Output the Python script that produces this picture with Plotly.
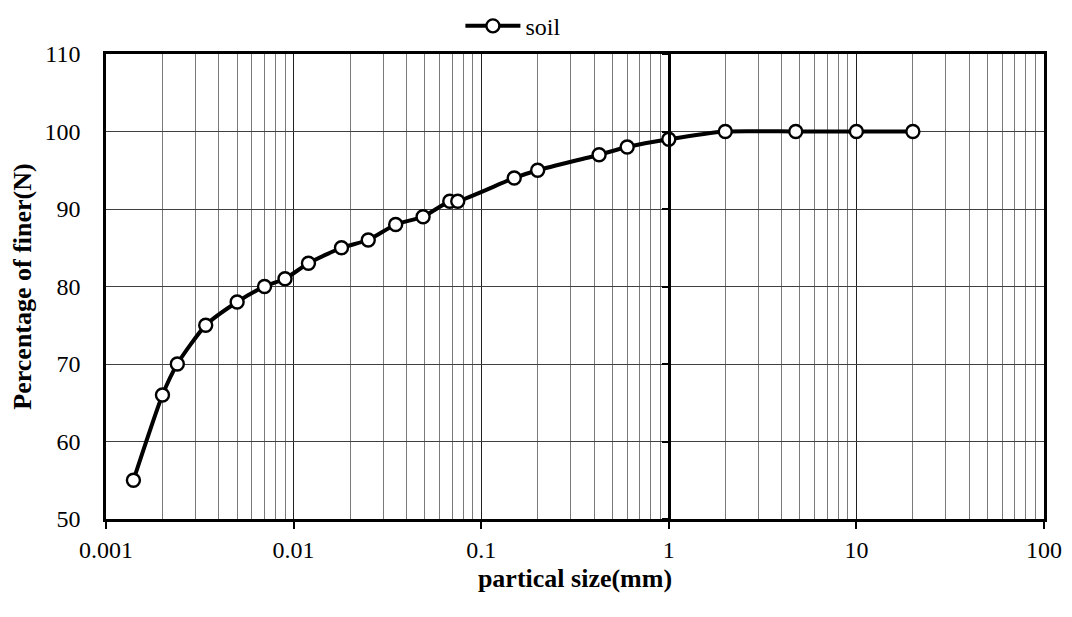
import plotly.graph_objects as go

size_mm = [0.0014, 0.002, 0.0024, 0.0034, 0.005, 0.007, 0.009, 0.012, 0.018, 0.025,
           0.035, 0.049, 0.068, 0.075, 0.15, 0.2, 0.425, 0.6, 1.0, 2.0, 4.75, 10.0, 20.0]
percent_finer = [55, 66, 70, 75, 78, 80, 81, 83, 85, 86,
                 88, 89, 91, 91, 94, 95, 97, 98, 99, 100, 100, 100, 100]

decades = [-3, -2, -1, 0, 1, 2]
major_vals = [10 ** e for e in decades]
major_text = ["0.001", "0.01", "0.1", "1", "10", "100"]
minor_vals = [m * 10 ** e for e in decades[:-1] for m in range(2, 10)]
y_ticks = [50, 60, 70, 80, 90, 100, 110]

font_family = "Liberation Serif, Times New Roman, serif"

fig = go.Figure()
fig.add_trace(go.Scatter(
    x=size_mm, y=percent_finer, name="soil", mode="lines+markers",
    line=dict(color="black", width=4, shape="spline", smoothing=0.6),
    marker=dict(size=13, color="white", line=dict(color="black", width=2.4)),
))

fig.update_layout(
    width=1064, height=609,
    margin=dict(l=98, r=28, t=46, b=98, autoexpand=False),
    paper_bgcolor="white", plot_bgcolor="white",
    font=dict(family=font_family, size=24, color="black"),
    showlegend=True,
    legend=dict(orientation="h", xref="container", yref="container",
                x=0.475, xanchor="center", y=0.97, yanchor="middle",
                bgcolor="rgba(0,0,0,0)",
                font=dict(family=font_family, size=24, color="black"),
                itemwidth=55, tracegroupgap=0),
    xaxis=dict(
        type="log", range=[-3, 2], automargin=False,
        tickmode="array", tickvals=major_vals, ticktext=major_text,
        ticks="outside", ticklen=7, tickwidth=2, tickcolor="black",
        showgrid=True, gridcolor="#202020", gridwidth=1,
        minor=dict(tickmode="array", tickvals=minor_vals, showgrid=True,
                   gridcolor="#7a7a7a", gridwidth=1, ticks=""),
        showline=True, linecolor="black", linewidth=2.5, mirror=True,
        zeroline=False,
        title=dict(text="<b>partical size(mm)</b>", standoff=8,
                   font=dict(family=font_family, size=26, color="black")),
        tickfont=dict(family=font_family, size=24, color="black"),
    ),
    yaxis=dict(
        range=[50, 110], tickvals=y_ticks, automargin=False,
        ticks="", ticklabelstandoff=18,
        showgrid=True, gridcolor="#404040", gridwidth=1,
        showline=True, linecolor="black", linewidth=2.5, mirror=True,
        zeroline=False,
        title=dict(text="<b>Percentage of finer(N)</b>", standoff=14,
                   font=dict(family=font_family, size=26, color="black")),
        tickfont=dict(family=font_family, size=24, color="black"),
    ),
    yaxis2=dict(
        range=[50, 110], tickvals=y_ticks, overlaying="y", anchor="free",
        position=0.6, side="left", showticklabels=False, showgrid=False,
        automargin=False,
        ticks="outside", ticklen=6, tickwidth=1.5, tickcolor="black",
        showline=True, linecolor="black", linewidth=2.5, zeroline=False,
    ),
)

# invisible helper trace so the crossing vertical axis at x = 1 is drawn
fig.add_trace(go.Scatter(x=[size_mm[0]], y=[percent_finer[0]], yaxis="y2",
                         mode="markers", marker=dict(opacity=0), showlegend=False,
                         hoverinfo="skip"))

fig.write_html("out.html")
